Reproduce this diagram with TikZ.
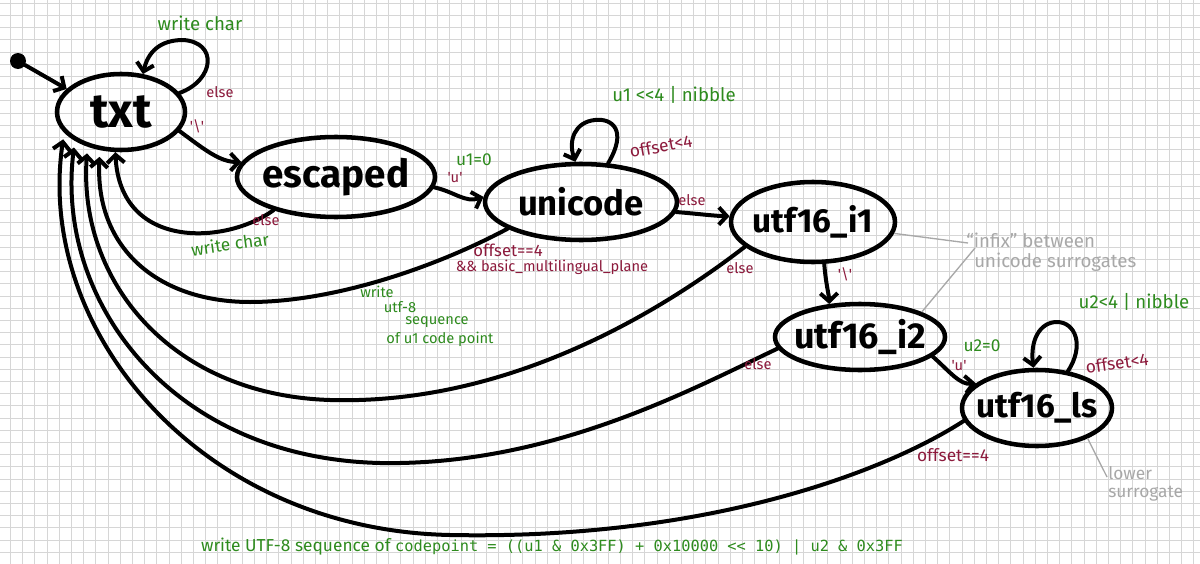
\documentclass[tikz,border=0pt]{standalone}
\usepackage{fontspec}
\setmainfont{Fira Sans}
\newfontfamily\codefont{DejaVu Sans Mono}
\usetikzlibrary{arrows.meta,shapes.geometric}
\definecolor{lblgreen}{HTML}{2E8B1E}
\definecolor{lblred}{HTML}{8C1A3C}
\definecolor{notegray}{HTML}{A8A8A8}
\definecolor{gridgray}{HTML}{D6D6D6}
\newcommand\statetext[2]{\makebox[0pt]{\fontsize{#1}{#1}\selectfont\bfseries #2}}
\begin{document}
\begin{tikzpicture}[x=0.75pt,y=-0.75pt,
  state/.style={ellipse,draw,line width=3.4pt,inner sep=0pt},
  edge/.style={line width=3pt,line cap=round,line join=round,-{Straight Barb[length=6pt,width=13pt]}},
  bundle/.style={edge,shorten >=5pt},
  gl/.style={text=lblgreen,inner sep=0pt,font=\fontsize{13}{15}\selectfont},
  rl/.style={text=lblred,inner sep=0pt,font=\fontsize{11}{13}\selectfont},
  nl/.style={text=notegray,inner sep=0pt,font=\fontsize{14}{15}\selectfont},
  wl/.style={gl,font=\fontsize{11}{12}\selectfont},
  noteline/.style={draw=notegray,line width=1pt}]
\fill[white] (0,0) rectangle (1200,564);
\useasboundingbox (0,0) rectangle (1200,564);
\begin{scope}
\clip (0,0) rectangle (1200,564);
\foreach \i in {0,...,98} \draw[gridgray,line width=0.75pt] ({10.5+12.2*\i},0) -- ({10.5+12.2*\i},564);
\foreach \j in {0,...,46} \draw[gridgray,line width=0.75pt] (0,{3.3+12.2*\j}) -- (1200,{3.3+12.2*\j});
\end{scope}

% states
\node[state,minimum width=96pt,minimum height=57pt] (txt) at (121,112) {\statetext{36}{txt}};
\node[state,minimum width=148.5pt,minimum height=60pt] (escaped) at (336,177) {\statetext{29}{escaped}};
\node[state,minimum width=144pt,minimum height=57pt] (unicode) at (581,202) {\statetext{26}{unicode}};
\node[state,minimum width=123pt,minimum height=60pt] (i1) at (813,222) {\statetext{25}{utf16\_i1}};
\node[state,minimum width=127.5pt,minimum height=49.5pt] (i2) at (860,337) {\statetext{27}{utf16\_i2}};
\node[state,minimum width=112.5pt,minimum height=57pt] (ls) at (1037,408) {\statetext{25}{utf16\_ls}};
\node[circle,fill,inner sep=0pt,minimum size=12pt] (start) at (18,61) {};

% edges
\draw[edge] (start) -- (txt.157);
\draw[edge] (txt.18) .. controls (215,80) and (218,42) .. (183,40) .. controls (160,40) and (148,52) .. (txt.60);
\draw[edge] (txt.-18) .. controls (205,150) and (220,162) .. (escaped.171);
\draw[edge] (escaped.-6) .. controls (455,192) and (465,203) .. (unicode.177);
\draw[edge] (unicode.55) .. controls (628,130) and (612,118) .. (595,120) .. controls (575,122) and (568,140) .. (unicode.98);
\draw[edge] (unicode.-6) .. controls (700,214) and (715,216) .. (i1.176);
\draw[edge] (i1.-75) .. controls (826,285) and (829,295) .. (i2.133);
\draw[edge] (i2.-15) .. controls (950,372) and (960,385) .. (ls.158);
\draw[edge] (ls.50) .. controls (1085,345) and (1075,322) .. (1057,322) .. controls (1040,322) and (1030,340) .. (ls.95);

% edges back to txt
\draw[edge] (escaped.208) .. controls (225,245) and (120,250) .. (txt.262);
\draw[bundle] (unicode.200) .. controls (430,270) and (330,302) .. (250,302) .. controls (160,302) and (95,250) .. (txt.241);
\draw[bundle] (i1.200) .. controls (650,320) and (500,405) .. (330,400) .. controls (170,395) and (78,280) .. (txt.226);
\draw[bundle] (i2.188) .. controls (690,390) and (550,466) .. (380,463) .. controls (170,458) and (55,300) .. (txt.212);
\draw[bundle] (ls.190) .. controls (880,475) and (700,540) .. (450,535) .. controls (200,530) and (35,330) .. (txt.200);

% labels
\node[gl,font=\fontsize{14}{16}\selectfont] (l1) at (200,23) {write char};
\node[rl] (l2) at (220,92) {else};
\node[rl] (l3) at (197,126) {\textquotesingle\textbackslash\textquotesingle};
\node[rl] (l4) at (266,220) {else};
\node[gl,rotate=8] (l5) at (230,244) {write char};
\node[gl] (l6) at (474,160) {u1=0};
\node[rl] (l7) at (455,178) {\textquotesingle u\textquotesingle};
\node[gl,font=\fontsize{14}{16}\selectfont] (l8) at (674,95) {u1 <{}<4 | nibble};
\node[rl,font=\fontsize{13}{15}\selectfont,rotate=10] (l9) at (661,146) {offset<4};
\node[rl] (l10) at (692,200) {else};
\node[rl,font=\fontsize{12.5}{14}\selectfont] (l11) at (508,250) {offset==4};
\node[rl] (l12) at (552,267) {\&\& basic\_multilingual\_plane};
\node[wl] (w1) at (377,292) {write};
\node[wl] (w2) at (400,307) {utf-8};
\node[wl] (w3) at (437,322) {sequence};
\node[wl] (w4) at (440,339) {of u1 code point};
\node[rl] (l13) at (740,268) {else};
\node[rl] (l14) at (845,274) {\textquotesingle\textbackslash\textquotesingle};
\node[rl] (l15) at (758,364) {else};
\node[gl] (l16) at (982,346) {u2=0};
\node[rl] (l17) at (959,366) {\textquotesingle u\textquotesingle};
\node[gl,font=\fontsize{14}{16}\selectfont] (l18) at (1134,302) {u2<4 | nibble};
\node[rl,font=\fontsize{13}{15}\selectfont,rotate=8] (l19) at (1117,363) {offset<4};
\node[rl,font=\fontsize{13}{15}\selectfont] (l20) at (953,455) {offset==4};
\node[gl,font=\fontsize{13}{15}\selectfont] (formula) at (552,547) {write UTF-8 sequence of {\codefont\fontsize{11.5}{13}\selectfont codepoint = ((u1 \& 0x3FF) + 0x10000 << 10) | u2 \& 0x3FF}};

% notes
\node[nl,align=left,anchor=west] (infix) at (966,252) {“infix” between\\\hspace{6pt}unicode surrogates};
\coordinate (n1) at (968,243);
\coordinate (n2) at (975,248);
\draw[noteline] (i1.-8) -- (n1);
\draw[noteline] (n2) -- (i2.22);
\node[nl,font=\fontsize{13}{14}\selectfont,align=left,anchor=north west] (lower) at (1108,466) {lower\\surrogate};
\coordinate (n3) at (1107,477);
\draw[noteline] (ls.-31) -- (n3);
\end{tikzpicture}
\end{document}
